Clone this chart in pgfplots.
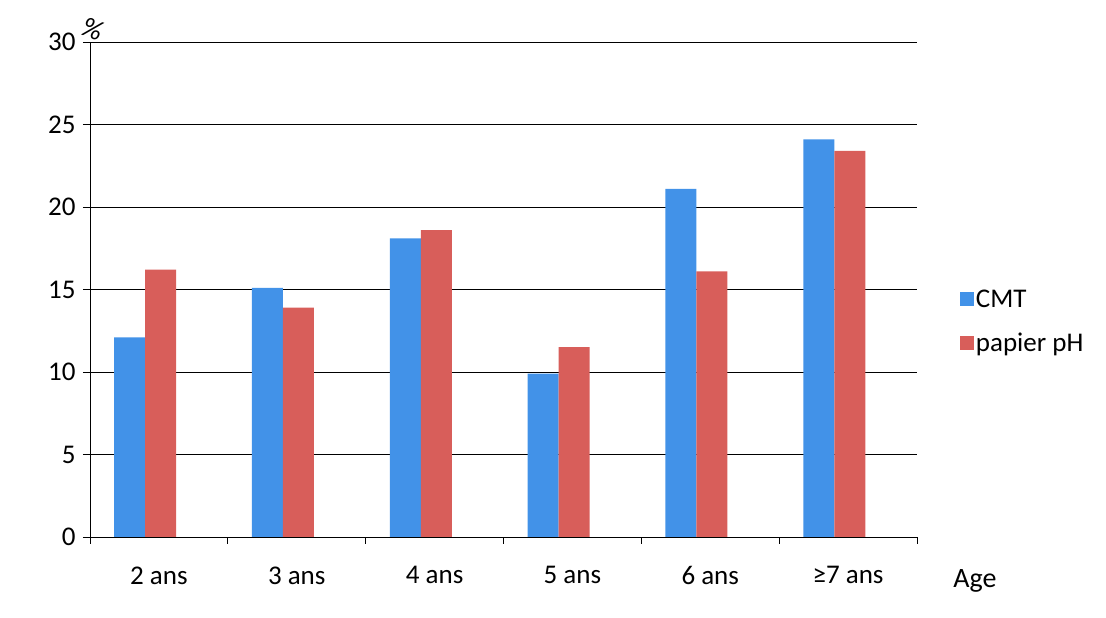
\documentclass[border=0pt]{standalone}
\usepackage{pgfplots}
\pgfplotsset{compat=1.18}
\usepackage{fontspec}
\setmainfont{Carlito}

\definecolor{cmtblue}{RGB}{66,146,232}
\definecolor{phred}{RGB}{216,94,90}

\pgfplotsset{
  sqlegend/.style={legend image code/.code={
      \fill[##1] (0pt,-7pt) rectangle (14pt,7pt);}}
}

\begin{document}
\begin{tikzpicture}[x=1pt,y=1pt]
\useasboundingbox (0,0) rectangle (1106,618);
\begin{axis}[
  at={(90pt,81pt)}, anchor=south west,
  scale only axis, width=827pt, height=495pt,
  ybar=0pt, bar width=31pt,
  xmin=-0.5, xmax=5.5, ymin=0, ymax=30,
  axis x line*=bottom, axis y line*=left,
  axis line style={black, line width=0.9pt},
  xtick={0,1,2,3,4,5},
  xticklabels={2 ans,3 ans,4 ans,5 ans,6 ans,≥7 ans},
  minor xtick={-0.5,0.5,1.5,2.5,3.5,4.5,5.5},
  major x tick style={draw=none},
  minor x tick style={black, line width=0.8pt},
  minor tick length=7pt,
  ytick={0,5,...,30},
  major y tick style={black, line width=0.8pt},
  major tick length=7pt,
  tick align=outside,
  ymajorgrids, grid style={black, line width=0.9pt},
  tick label style={font=\fontsize{27}{32}\selectfont},
  /pgf/number format/assume math mode=true,
  xticklabel style={yshift=-19pt},
  yticklabel style={xshift=-4pt},
  legend style={draw=none, fill=none, at={(1.048,0.436)}, anchor=west,
    font=\fontsize{27}{32}\selectfont, row sep=20pt,
    /tikz/every even column/.append style={column sep=7pt}},
  legend cell align=left,
  sqlegend,
  clip=false,
]
\addplot[draw=none, fill=cmtblue] coordinates
  {(-0.1,12.1) (0.9,15.1) (1.9,18.1) (2.9,9.9) (3.9,21.1) (4.9,24.1)};
\addplot[draw=none, fill=phred] coordinates
  {(-0.1,16.2) (0.9,13.9) (1.9,18.6) (2.9,11.5) (3.9,16.1) (4.9,23.4)};
\legend{CMT, papier pH}
\node[font=\fontsize{28}{33}\selectfont] at (rel axis cs:1.07,0) [yshift=-44pt] {Age};
\node[font=\fontsize{28}{32}\selectfont\itshape, rotate=-20] at (rel axis cs:0,1) [xshift=-2pt, yshift=13pt] {\%};
\end{axis}
\end{tikzpicture}
\end{document}
